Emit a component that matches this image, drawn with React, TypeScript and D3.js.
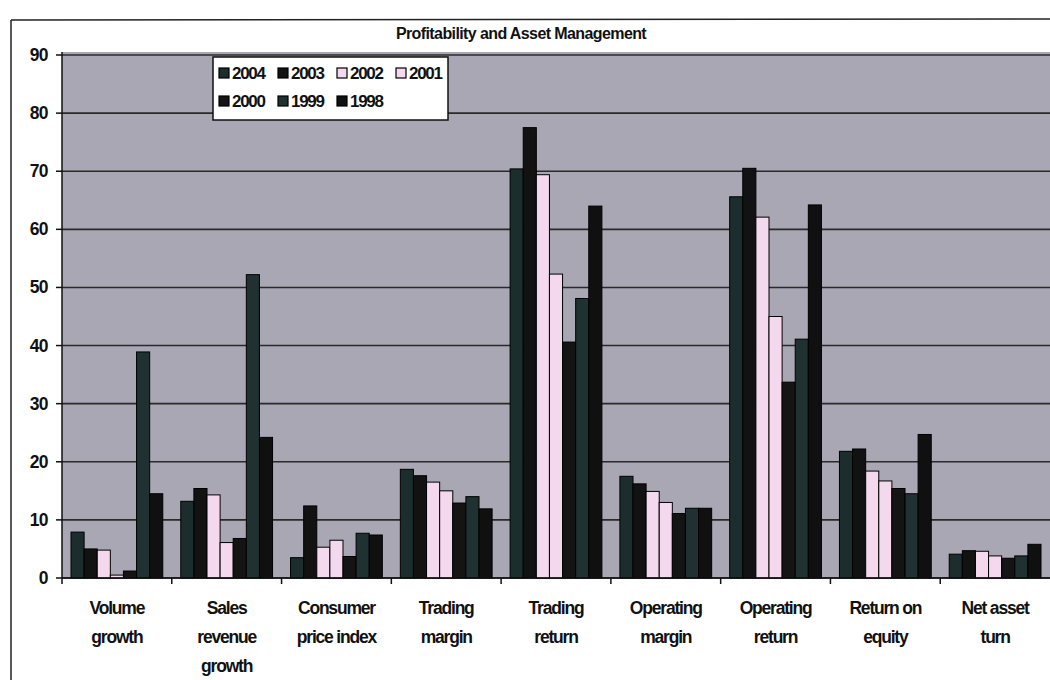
import React from "react";
import * as d3 from "d3";

const categories: string[][] = [
  ["Volume", "growth"],
  ["Sales", "revenue", "growth"],
  ["Consumer", "price index"],
  ["Trading", "margin"],
  ["Trading", "return"],
  ["Operating", "margin"],
  ["Operating", "return"],
  ["Return on", "equity"],
  ["Net asset", "turn"],
];

const years = ["2004", "2003", "2002", "2001", "2000", "1999", "1998"];

const s2004 = [7.9, 13.2, 3.5, 18.7, 70.4, 17.5, 65.6, 21.8, 4.1];
const s2003 = [5.0, 15.4, 12.4, 17.6, 77.5, 16.2, 70.5, 22.2, 4.7];
const s2002 = [4.8, 14.3, 5.3, 16.5, 69.4, 14.9, 62.1, 18.4, 4.6];
const s2001 = [0.5, 6.1, 6.5, 15.0, 52.3, 13.0, 45.0, 16.7, 3.8];
const s2000 = [1.2, 6.8, 3.7, 12.9, 40.6, 11.1, 33.7, 15.4, 3.4];
const s1999 = [38.9, 52.2, 7.7, 14.0, 48.1, 12.0, 41.1, 14.5, 3.8];
const s1998 = [14.5, 24.2, 7.4, 11.9, 64.0, 12.0, 64.2, 24.7, 5.8];

const seriesValues = [s2004, s2003, s2002, s2001, s2000, s1999, s1998];
const seriesColors = ["#1c2d2d", "#121212", "#f3d8ee", "#f3d8ee", "#141414", "#1f3131", "#101010"];

const yTicks = [0, 10, 20, 30, 40, 50, 60, 70, 80, 90];

const title = "Profitability and Asset Management";

const W = 1050;
const H = 680;
const plotLeft = 62;
const plotRight = 1050;
const plotTop = 55;
const plotBottom = 578;

export default function App() {
  const catKeys = categories.map((c) => c.join(" "));
  const x0 = d3.scaleBand<string>().domain(catKeys).range([plotLeft, plotRight]).paddingInner(0).paddingOuter(0);
  const bw = x0.bandwidth();
  const x1 = d3
    .scaleBand<string>()
    .domain(years)
    .range([bw * 0.082, bw * 0.918])
    .padding(0);
  const y = d3.scaleLinear().domain([0, 90]).range([plotBottom, plotTop]);

  const font = "'Liberation Sans', Arial, sans-serif";

  return (
    <svg
      width={W}
      height={H}
      viewBox={`0 0 ${W} ${H}`}
      style={{ position: "absolute", left: 0, top: 0, display: "block", background: "#ffffff" }}
    >
      {/* outer frame */}
      <line x1={11} y1={20} x2={W} y2={19} stroke="#222" strokeWidth={1.5} />
      <line x1={11} y1={20} x2={11} y2={H} stroke="#222" strokeWidth={1.5} />

      {/* title */}
      <text
        x={521}
        y={39}
        textAnchor="middle"
        fontFamily={font}
        fontWeight="bold"
        fontSize={16}
        letterSpacing={-0.6}
        fill="#111"
      >
        {title}
      </text>

      {/* plot area */}
      <rect x={plotLeft} y={plotTop - 3} width={plotRight - plotLeft} height={plotBottom - plotTop + 3} fill="#a9a7b4" />

      {/* gridlines */}
      {yTicks.map((t) => (
        <line key={"g" + t} x1={plotLeft} x2={plotRight} y1={y(t)} y2={y(t)} stroke="#2a2a2a" strokeWidth={1.6} />
      ))}

      {/* bars */}
      {categories.map((c, ci) => (
        <g key={"c" + ci} transform={`translate(${x0(catKeys[ci])},0)`}>
          {years.map((yr, si) => {
            const v = seriesValues[si][ci];
            return (
              <rect
                key={yr}
                x={x1(yr)}
                y={y(v)}
                width={x1.bandwidth()}
                height={y(0) - y(v)}
                fill={seriesColors[si]}
                stroke="#000"
                strokeWidth={1}
              />
            );
          })}
        </g>
      ))}

      {/* y axis */}
      <line x1={plotLeft} x2={plotLeft} y1={plotTop - 3} y2={plotBottom} stroke="#111" strokeWidth={1.5} />
      {yTicks.map((t) => (
        <g key={"t" + t}>
          <line x1={plotLeft - 6} x2={plotLeft} y1={y(t)} y2={y(t)} stroke="#111" strokeWidth={1.5} />
          <text
            x={48}
            y={y(t) + 6}
            textAnchor="end"
            fontFamily={font}
            fontWeight="bold"
            fontSize={17.5}
            letterSpacing={-0.6}
            fill="#111"
          >
            {t}
          </text>
        </g>
      ))}

      {/* x axis */}
      <line x1={plotLeft} x2={plotRight} y1={plotBottom} y2={plotBottom} stroke="#111" strokeWidth={1.5} />
      {catKeys.map((k) => (
        <line key={"xt" + k} x1={x0(k)} x2={x0(k)} y1={plotBottom} y2={plotBottom + 6} stroke="#111" strokeWidth={1.5} />
      ))}
      {categories.map((c, ci) => (
        <text
          key={"xl" + ci}
          textAnchor="middle"
          fontFamily={font}
          fontWeight="bold"
          fontSize={17.5}
          letterSpacing={-1.2}
          fill="#111"
        >
          {c.map((line, li) => (
            <tspan key={li} x={(x0(catKeys[ci]) as number) + bw / 2} y={614 + li * 29}>
              {line}
            </tspan>
          ))}
        </text>
      ))}

      {/* legend */}
      <rect x={213} y={57} width={235} height={63} fill="#ffffff" stroke="#111" strokeWidth={1.5} />
      {years.map((yr, i) => {
        const col = i < 4 ? i : i - 4;
        const row = i < 4 ? 0 : 1;
        const lx = 219 + col * 59;
        const ly = 73 + row * 28;
        return (
          <g key={"lg" + yr}>
            <rect x={lx} y={ly - 5} width={10} height={10} fill={seriesColors[i]} stroke="#000" strokeWidth={1.2} />
            <text
              x={lx + 13}
              y={ly + 6}
              fontFamily={font}
              fontWeight="bold"
              fontSize={17}
              letterSpacing={-1.3}
              fill="#111"
            >
              {yr}
            </text>
          </g>
        );
      })}
    </svg>
  );
}
